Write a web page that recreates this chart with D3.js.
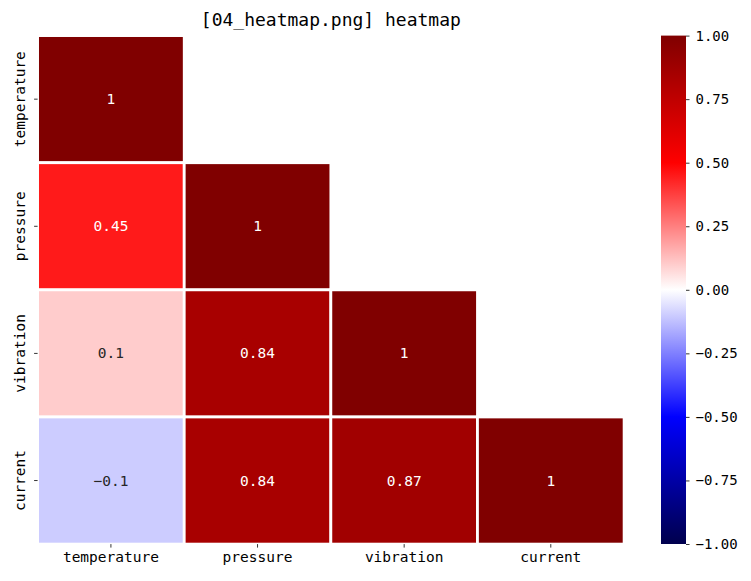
<!DOCTYPE html>
<html><head><meta charset="utf-8">
<script src="https://cdn.jsdelivr.net/npm/d3@7"></script>
<style>body{margin:0;background:#fff}svg{display:block}text{font-family:"DejaVu Sans Mono",monospace}</style>
</head><body><div id="c"></div>
<script>
const labels = ["temperature", "pressure", "vibration", "current"];
const rowTemperature = [1, null, null, null];
const rowPressure = [0.45, 1, null, null];
const rowVibration = [0.1, 0.84, 1, null];
const rowCurrent = [-0.1, 0.84, 0.87, 1];
const matrix = [rowTemperature, rowPressure, rowVibration, rowCurrent];
const cbarTicks = [-1, -0.75, -0.5, -0.25, 0, 0.25, 0.5, 0.75, 1];
const title = "[04_heatmap.png] heatmap";

const W = 751, H = 581;
const svg = d3.select("#c").append("svg").attr("width", W).attr("height", H);
const L = 37.6, R = 624.1, T = 35.6, B = 544.1;

const seismicStops = [[0,0,0.3],[0,0,1],[1,1,1],[1,0,0],[0.5,0,0]];
function seismic(t){
  t = Math.max(0, Math.min(1, t));
  const s = t*4, i = Math.min(3, Math.floor(s)), f = s - i;
  const a = seismicStops[i], b = seismicStops[i+1];
  return [0,1,2].map(k => a[k] + (b[k]-a[k])*f);
}
const norm = d3.scaleLinear().domain([-1, 1]).range([0, 1]);
const toRgb = c => d3.rgb(c[0]*255, c[1]*255, c[2]*255);

const x = d3.scaleBand().domain(labels).range([L, R]).padding(0);
const y = d3.scaleBand().domain(labels).range([T, B]).padding(0);

const cells = [];
matrix.forEach((row, i) => row.forEach((v, j) => { if (v !== null) cells.push({r: labels[i], c: labels[j], v}); }));

svg.append("g").selectAll("rect").data(cells).join("rect")
  .attr("x", d => x(d.c)).attr("y", d => y(d.r))
  .attr("width", x.bandwidth()).attr("height", y.bandwidth())
  .attr("fill", d => toRgb(seismic(norm(d.v))))
  .attr("stroke", "#fff").attr("stroke-width", 2.78);

function lum(c){
  const f = u => u <= 0.03928 ? u/12.92 : Math.pow((u+0.055)/1.055, 2.4);
  return 0.2126*f(c[0]) + 0.7152*f(c[1]) + 0.0722*f(c[2]);
}
svg.append("g").selectAll("text").data(cells).join("text")
  .attr("x", d => x(d.c) + x.bandwidth()/2).attr("y", d => y(d.r) + y.bandwidth()/2)
  .attr("text-anchor", "middle").attr("dominant-baseline", "central")
  .attr("font-size", 14.5)
  .attr("fill", d => lum(seismic(norm(d.v))) > 0.408 ? "#262626" : "#ffffff")
  .text(d => String(d.v).replace("-", "\u2212"));

// axes
const xAxis = d3.axisBottom(x).tickSize(3.5).tickPadding(4);
const gx = svg.append("g").attr("transform", `translate(0,${B})`).call(xAxis);
gx.select(".domain").remove();
gx.selectAll("text").attr("font-size", 14.5).attr("fill", "#000").attr("font-family", "DejaVu Sans Mono");
gx.selectAll("line").attr("stroke", "#000").attr("stroke-width", 0.8);

const yAxis = d3.axisLeft(y).tickSize(3.5).tickPadding(4);
const gy = svg.append("g").attr("transform", `translate(${L},0)`).call(yAxis);
gy.select(".domain").remove();
gy.selectAll("line").attr("stroke", "#000").attr("stroke-width", 0.8);
gy.selectAll("text").attr("font-size", 14.5).attr("fill", "#000").attr("font-family", "DejaVu Sans Mono")
  .attr("x", 0).attr("y", 0).attr("dy", null)
  .attr("text-anchor", "middle")
  .attr("transform", "translate(-13,0) rotate(-90)")
  .attr("dominant-baseline", "auto");

// title
svg.append("text").attr("x", (L+R)/2).attr("y", 26).attr("text-anchor", "middle")
  .attr("font-size", 18).attr("fill", "#000").text(title);

// colorbar
const cbL = 661, cbR = 686, cbT = 35.6, cbB = 544;
const defs = svg.append("defs");
const grad = defs.append("linearGradient").attr("id", "g").attr("x1", 0).attr("y1", 1).attr("x2", 0).attr("y2", 0);
d3.range(0, 1.0001, 0.05).forEach(t => grad.append("stop").attr("offset", t).attr("stop-color", toRgb(seismic(t))));
svg.append("rect").attr("x", cbL).attr("y", cbT).attr("width", cbR-cbL).attr("height", cbB-cbT).attr("fill", "url(#g)");
const cy = d3.scaleLinear().domain([-1, 1]).range([cbB, cbT]);
const cAxis = d3.axisRight(cy).tickValues(cbarTicks).tickSize(3.5).tickPadding(6)
  .tickFormat(d => d3.format(".2f")(d).replace("-", "\u2212"));
const gc = svg.append("g").attr("transform", `translate(${cbR},0)`).call(cAxis);
gc.select(".domain").remove();
gc.selectAll("line").attr("stroke", "#000").attr("stroke-width", 0.8);
gc.selectAll("text").attr("font-size", 14).attr("fill", "#000").attr("font-family", "DejaVu Sans Mono");
</script></body></html>
